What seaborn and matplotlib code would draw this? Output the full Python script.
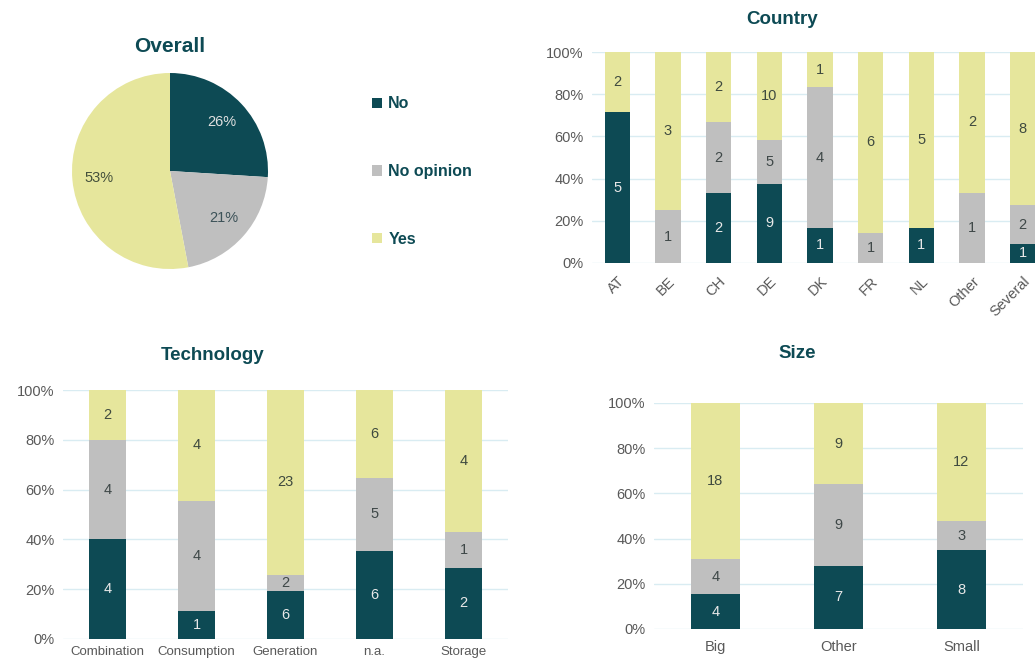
import numpy as np
import pandas as pd
import matplotlib
matplotlib.use("Agg")
import matplotlib.pyplot as plt
from matplotlib.patches import Patch
import seaborn as sns

# ---- data ----
answers = ["No", "No opinion", "Yes"]
overall_pct = [26, 21, 53]

countries = ["AT", "BE", "CH", "DE", "DK", "FR", "NL", "Other", "Several"]
country_no = [5, 0, 2, 9, 1, 0, 1, 0, 1]
country_noop = [0, 1, 2, 5, 4, 1, 0, 1, 2]
country_yes = [2, 3, 2, 10, 1, 6, 5, 2, 8]

techs = ["Combination", "Consumption", "Generation", "n.a.", "Storage"]
tech_no = [4, 1, 6, 6, 2]
tech_noop = [4, 4, 2, 5, 1]
tech_yes = [2, 4, 23, 6, 4]

sizes = ["Big", "Other", "Small"]
size_no = [4, 7, 8]
size_noop = [4, 9, 3]
size_yes = [18, 9, 12]

# ---- style ----
DARK = "#0d4a54"
GREY = "#bfbfbf"
YELLOW = "#e6e69c"
colors = [DARK, GREY, YELLOW]
TXT = "#595959"
GRID = "#d9ecf2"

sns.set_style("white")
plt.rcParams["font.family"] = ["Liberation Sans", "DejaVu Sans"]

fig = plt.figure(figsize=(10.35, 6.61), dpi=100)


def stacked(ax, cats, no, noop, yes, width, rot=0, xfs=10.5, pad=6):
    df = pd.DataFrame({"cat": cats, "No": no, "No opinion": noop, "Yes": yes})
    tot = df[answers].sum(axis=1)
    pct = df[answers].div(tot, axis=0) * 100
    cum = pct.cumsum(axis=1)
    # draw back to front so the stack shows
    for i in [2, 1, 0]:
        d = pd.DataFrame({"cat": cats, "v": cum[answers[i]].values})
        sns.barplot(data=d, x="cat", y="v", color=colors[i], width=width,
                    saturation=1, linewidth=0, ax=ax, zorder=2)
    lab_col = ["#e8e8e8", "#3f4848", "#3f4a3f"]
    for j in range(len(cats)):
        base = 0
        for i, a in enumerate(answers):
            val = df[a].iloc[j]
            h = pct[a].iloc[j]
            if val > 0:
                ax.text(j, base + h / 2, str(val), ha="center", va="center",
                        fontsize=10.5, color=lab_col[i], zorder=3)
            base += h
    ax.set_ylim(0, 100)
    ax.set_xlim(-0.5, len(cats) - 0.5)
    ax.set_yticks(range(0, 101, 20))
    ax.set_yticklabels([f"{v}%" for v in range(0, 101, 20)], fontsize=10.5, color=TXT)
    ax.yaxis.grid(True, color=GRID, linewidth=1, zorder=0)
    ax.set_axisbelow(True)
    ax.set_xlabel("")
    ax.set_ylabel("")
    ax.tick_params(axis="y", length=0, pad=6)
    ax.tick_params(axis="x", length=0, pad=pad)
    ax.set_xticks(range(len(cats)))
    if rot:
        ax.set_xticklabels(cats, rotation=rot, ha="right", rotation_mode="anchor",
                           fontsize=xfs, color=TXT)
    else:
        ax.set_xticklabels(cats, fontsize=xfs, color=TXT)
    sns.despine(ax=ax, left=True, bottom=True)


# ---- pie ----
W, H = 1035, 661
ax_pie = fig.add_axes([(170 - 98) / W, 1 - (171 + 98) / H, 196 / W, 196 / H])
wedges, _, autotexts = ax_pie.pie(overall_pct, colors=colors, startangle=90,
                                  counterclock=False,
                                  autopct=lambda p: f"{p:.0f}%",
                                  pctdistance=0.73,
                                  wedgeprops=dict(linewidth=0))
for t, c in zip(autotexts, ["#e0e0e0", "#3c5258", "#44503c"]):
    t.set_color(c)
    t.set_fontsize(10.5)
ax_pie.set_xlim(-1, 1)
ax_pie.set_ylim(-1, 1)
ax_pie.set_aspect("equal")
fig.text(170 / W, 1 - 47 / H, "Overall", ha="center", va="center",
         fontsize=15, fontweight="bold", color=DARK)

handles = [Patch(facecolor=c, edgecolor="none") for c in colors]
leg = fig.legend(handles, answers, loc="upper left",
                 bbox_to_anchor=(358 / W, 1 - 82 / H), frameon=False,
                 handlelength=0.6, handleheight=0.6, handletextpad=0.4,
                 labelspacing=3.3, prop={"weight": "bold", "size": 11.5})
for t in leg.get_texts():
    t.set_color(DARK)

# ---- country ----
ax_c = fig.add_axes([592 / W, 1 - 263 / H, (1048 - 592) / W, (263 - 52) / H])
stacked(ax_c, countries, country_no, country_noop, country_yes, 0.5, rot=45, pad=8)
fig.text(782 / W, 1 - 20 / H, "Country", ha="center", va="center",
         fontsize=13.5, fontweight="bold", color=DARK)

# ---- technology ----
ax_t = fig.add_axes([63 / W, 1 - 639 / H, (508 - 63) / W, (639 - 390) / H])
stacked(ax_t, techs, tech_no, tech_noop, tech_yes, 0.41, xfs=9.5, pad=5)
fig.text(213 / W, 1 - 355 / H, "Technology", ha="center", va="center",
         fontsize=13.5, fontweight="bold", color=DARK)

# ---- size ----
ax_s = fig.add_axes([654 / W, 1 - 629 / H, (1023 - 654) / W, (629 - 403) / H])
stacked(ax_s, sizes, size_no, size_noop, size_yes, 0.4, pad=8)
fig.text(797 / W, 1 - 353 / H, "Size", ha="center", va="center",
         fontsize=13.5, fontweight="bold", color=DARK)

fig.savefig("out.png", dpi=100)
